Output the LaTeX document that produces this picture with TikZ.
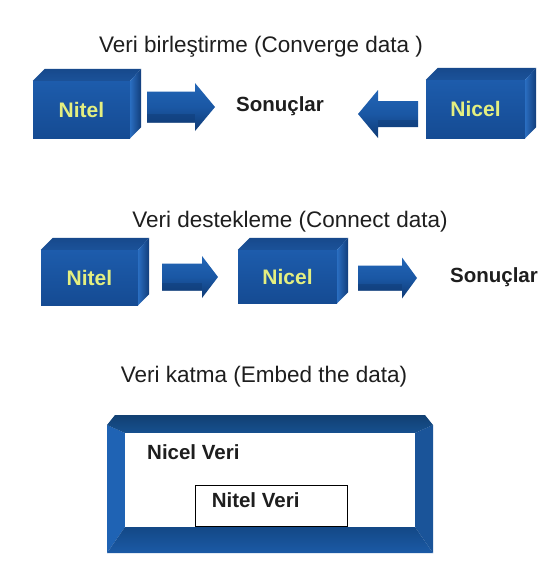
\documentclass[tikz,border=0pt]{standalone}
\usepackage{fontspec}
\setmainfont{Liberation Sans}
\usetikzlibrary{calc}

\definecolor{txt}{HTML}{1E1E1E}
\definecolor{frontA}{HTML}{1D5CAC}
\definecolor{frontB}{HTML}{154B93}
\definecolor{topA}{HTML}{1B5299}
\definecolor{topB}{HTML}{17498C}
\definecolor{sideA}{HTML}{2A6DC0}
\definecolor{sideB}{HTML}{113D7A}
\definecolor{arrA}{HTML}{2265B6}
\definecolor{arrM}{HTML}{1A57A4}
\definecolor{arrB}{HTML}{0F3A74}
\definecolor{lbl}{HTML}{E4EF80}
\definecolor{bandTop}{HTML}{16508F}
\definecolor{bandSide}{HTML}{1F63B4}
\definecolor{bandBotA}{HTML}{134886}
\definecolor{bandBotB}{HTML}{1B5AA6}

\tikzset{
  heading/.style={font=\fontsize{22.5}{26}\selectfont, text=txt, inner sep=0pt},
  result/.style={font=\bfseries\fontsize{20.5}{24}\selectfont, text=txt, inner sep=0pt},
  cubefront/.style={top color=frontA, bottom color=frontB, draw=none, inner sep=0pt,
    font=\bfseries\fontsize{21}{25}\selectfont, text=lbl},
  plain/.style={font=\bfseries\fontsize{20.5}{24}\selectfont, text=txt, inner sep=0pt},
  innerbox/.style={draw=black, line width=0.9pt, fill=white, inner sep=0pt},
}

% top and side faces of a block whose front face is node #1
\newcommand\cubefaces[1]{%
  \shade[top color=topB, bottom color=topA]
    (#1.north west) -- ++(12,-12) -- ($(#1.north east)+(11,-12)$) -- (#1.north east) -- cycle;
  \shade[left color=sideA, right color=sideB]
    (#1.north east) -- ++(11,-12) -- ($(#1.south east)+(11,-11)$) -- (#1.south east) -- cycle;}

% block arrow: #1 name, #2 rear centre, #3 shaft length, #4 shaft half height,
% #5 head length, #6 head half height, #7 extra options (xscale=-1 points left)
\newcommand\blockarrow[7]{%
  \begin{scope}[shift={#2},#7]
    \coordinate (#1) at (0,0);
    \shade[top color=arrA, bottom color=arrB, middle color=arrM]
      (0,-#4) -- (#3,-#4) -- (#3,-#6) -- ({#3+#5},0) -- (#3,#6) -- (#3,#4) -- (0,#4) -- cycle;
    \fill[arrB, opacity=0.45] (0,{#4*0.45}) -- (#3,{#4*0.45}) -- (#3,#4) -- (0,#4) -- cycle;
  \end{scope}}

\begin{document}
\begin{tikzpicture}[x=1pt,y=-1pt]
\useasboundingbox[fill=white] (0,0) rectangle (549,576);

% ---------- converge ----------
\node[heading] (t1) at (261,47) {Veri birleştirme (Converge data )};
\node[cubefront, minimum width=97pt, minimum height=57pt] (nitelA) at (81.5,109.5) {Nitel};
\cubefaces{nitelA}
\node[cubefront, minimum width=99pt, minimum height=58pt] (nicelA) at (475.5,109) {Nicel};
\cubefaces{nicelA}
\node[result] (sonucA) at (280,106) {Sonuçlar};
\blockarrow{arrA1}{(147,107)}{48}{15.5}{20}{24}{}
\blockarrow{arrA2}{(418,114)}{40}{13}{20}{24}{xscale=-1}

% ---------- connect ----------
\node[heading] (t2) at (290,222) {Veri destekleme (Connect data)};
\node[cubefront, minimum width=97pt, minimum height=55pt] (nitelB) at (89.5,277.5) {Nitel};
\cubefaces{nitelB}
\node[cubefront, minimum width=99pt, minimum height=53pt] (nicelB) at (287.5,276.5) {Nicel};
\cubefaces{nicelB}
\node[result] (sonucB) at (494,277) {Sonuçlar};
\blockarrow{arrB1}{(162,277)}{40}{13.5}{16}{21}{}
\blockarrow{arrB2}{(358,278)}{44}{12.5}{15}{20.5}{}

% ---------- embed ----------
\node[heading] (t3) at (264,377) {Veri katma (Embed the data)};
\coordinate (o1) at (107,425);
\coordinate (o2) at (115,415);
\coordinate (o3) at (425,415);
\coordinate (o4) at (433,425);
\coordinate (o5) at (433,553);
\coordinate (o6) at (107,553);
\coordinate (i1) at (125,433);
\coordinate (i2) at (415,433);
\coordinate (i3) at (415,527);
\coordinate (i4) at (125,527);
\fill[bandSide] (o1) -- (i1) -- (i4) -- (o6) -- cycle;
\fill[bandSide!85!black] (o4) -- (i2) -- (i3) -- (o5) -- cycle;
\shade[top color=bandBotA, bottom color=bandBotB] (o6) -- (i4) -- (i3) -- (o5) -- cycle;
\shade[top color=bandTop!80!black, bottom color=bandTop] (o1) -- (o2) -- (o3) -- (o4) -- (i2) -- (i1) -- cycle;
\fill[white] (i1) rectangle (i3);
\node[plain, anchor=west] (nicelV) at (147,452) {Nicel Veri};
\node[innerbox, minimum width=152pt, minimum height=41pt] (nitelVbox) at (271,505.5) {};
\node[plain, anchor=west] (nitelV) at ($(nitelVbox.west)+(17,-5)$) {Nitel Veri};
\end{tikzpicture}
\end{document}
